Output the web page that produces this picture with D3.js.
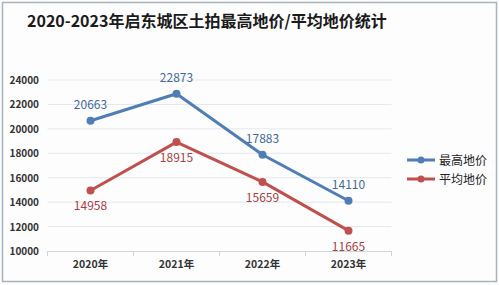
<!DOCTYPE html>
<html>
<head>
<meta charset="utf-8">
<script src="https://cdn.jsdelivr.net/npm/d3@7"></script>
<style>
  body { margin: 0; background: #fff; }
  svg { display: block; }
</style>
</head>
<body>
<div id="canvas"></div>
<script>
let years = ['2020年', '2021年', '2022年', '2023年']
let maxPrice = [20663, 22873, 17883, 14110]
let avgPrice = [14958, 18915, 15659, 11665]
let yTicks = [10000, 12000, 14000, 16000, 18000, 20000, 22000, 24000]
let seriesNames = ['最高地价', '平均地价']

let width = 499
let height = 285
let font = '"Noto Sans CJK SC", "Noto Sans", sans-serif'

let svg = d3.select('#canvas').append('svg')
    .attr('width', width)
    .attr('height', height)

// frame
svg.append('rect')
    .attr('x', 0).attr('y', 0)
    .attr('width', width).attr('height', height)
    .attr('fill', '#fbfcfd')
svg.append('rect')
    .attr('x', 2.5).attr('y', 2.5)
    .attr('width', width - 5).attr('height', height - 6)
    .attr('fill', '#fdfdfe')
    .attr('stroke', '#aab3bd')
    .attr('stroke-width', 1.5)

svg.append('text')
    .attr('x', 27).attr('y', 27)
    .attr('font-family', font)
    .attr('font-size', 16)
    .attr('font-weight', 'bold')
    .attr('fill', '#1a1a1a')
    .text('2020-2023年启东城区土拍最高地价/平均地价统计')

let x = d3.scaleBand().domain(years).range([47.5, 391.5])
let y = d3.scaleLinear().domain([10000, 24000]).range([251, 80])

// gridlines
svg.append('g')
    .selectAll('line')
    .data(yTicks.slice(1))
    .enter()
    .append('line')
    .attr('x1', 47.5).attr('x2', 391.5)
    .attr('y1', (d) => y(d)).attr('y2', (d) => y(d))
    .attr('stroke', '#e3e7ec')
    .attr('stroke-width', 1)

// y axis labels
svg.append('g')
    .selectAll('text')
    .data(yTicks)
    .enter()
    .append('text')
    .attr('x', 39)
    .attr('y', (d) => y(d) + 4)
    .attr('text-anchor', 'end')
    .attr('font-family', font)
    .attr('font-size', 10)
    .attr('font-weight', 'bold')
    .attr('fill', '#333')
    .text((d) => d)

// x axis
let xAxis = svg.append('g')
    .attr('transform', 'translate(0,' + y(10000) + ')')
    .call(d3.axisBottom(x).tickSize(0).tickPadding(10))
xAxis.select('.domain').attr('stroke', '#cfd5dc')
xAxis.selectAll('text')
    .attr('font-family', font)
    .attr('font-size', 10.5)
    .attr('font-weight', 'bold')
    .attr('fill', '#333')
xAxis.selectAll('.sep')
    .data(d3.range(years.length + 1))
    .enter()
    .append('line')
    .attr('class', 'sep')
    .attr('x1', (i) => 47.5 + i * x.bandwidth())
    .attr('x2', (i) => 47.5 + i * x.bandwidth())
    .attr('y1', 0).attr('y2', 5)
    .attr('stroke', '#cfd5dc')

let series = [
    { name: seriesNames[0], values: maxPrice, color: '#4f7db6', label: '#41699a', dy: -12 },
    { name: seriesNames[1], values: avgPrice, color: '#c0504d', label: '#a8403f', dy: 20 }
]

let line = d3.line()
    .x((d, i) => x(years[i]) + x.bandwidth() / 2)
    .y((d) => y(d))

series.forEach(function (s) {
    let g = svg.append('g')
    g.append('path')
        .attr('d', line(s.values))
        .attr('fill', 'none')
        .attr('stroke', s.color)
        .attr('stroke-width', 3)
        .attr('stroke-linejoin', 'round')
    g.selectAll('circle')
        .data(s.values)
        .enter()
        .append('circle')
        .attr('cx', (d, i) => x(years[i]) + x.bandwidth() / 2)
        .attr('cy', (d) => y(d))
        .attr('r', 4)
        .attr('fill', s.color)
    g.selectAll('text')
        .data(s.values)
        .enter()
        .append('text')
        .attr('x', (d, i) => x(years[i]) + x.bandwidth() / 2)
        .attr('y', (d) => y(d) + s.dy)
        .attr('text-anchor', 'middle')
        .attr('font-family', font)
        .attr('font-size', 12)
        .attr('fill', s.label)
        .text((d) => d)
})

// legend
let legend = svg.append('g')
    .selectAll('g')
    .data(series)
    .enter()
    .append('g')
    .attr('transform', (d, i) => 'translate(407,' + (160 + i * 19) + ')')
legend.append('line')
    .attr('x1', 0).attr('x2', 28)
    .attr('stroke', (d) => d.color)
    .attr('stroke-width', 3)
legend.append('circle')
    .attr('cx', 14).attr('r', 3.5)
    .attr('fill', (d) => d.color)
legend.append('text')
    .attr('x', 32).attr('y', 4.5)
    .attr('font-family', font)
    .attr('font-size', 12)
    .attr('fill', '#222')
    .text((d) => d.name)
</script>
</body>
</html>
